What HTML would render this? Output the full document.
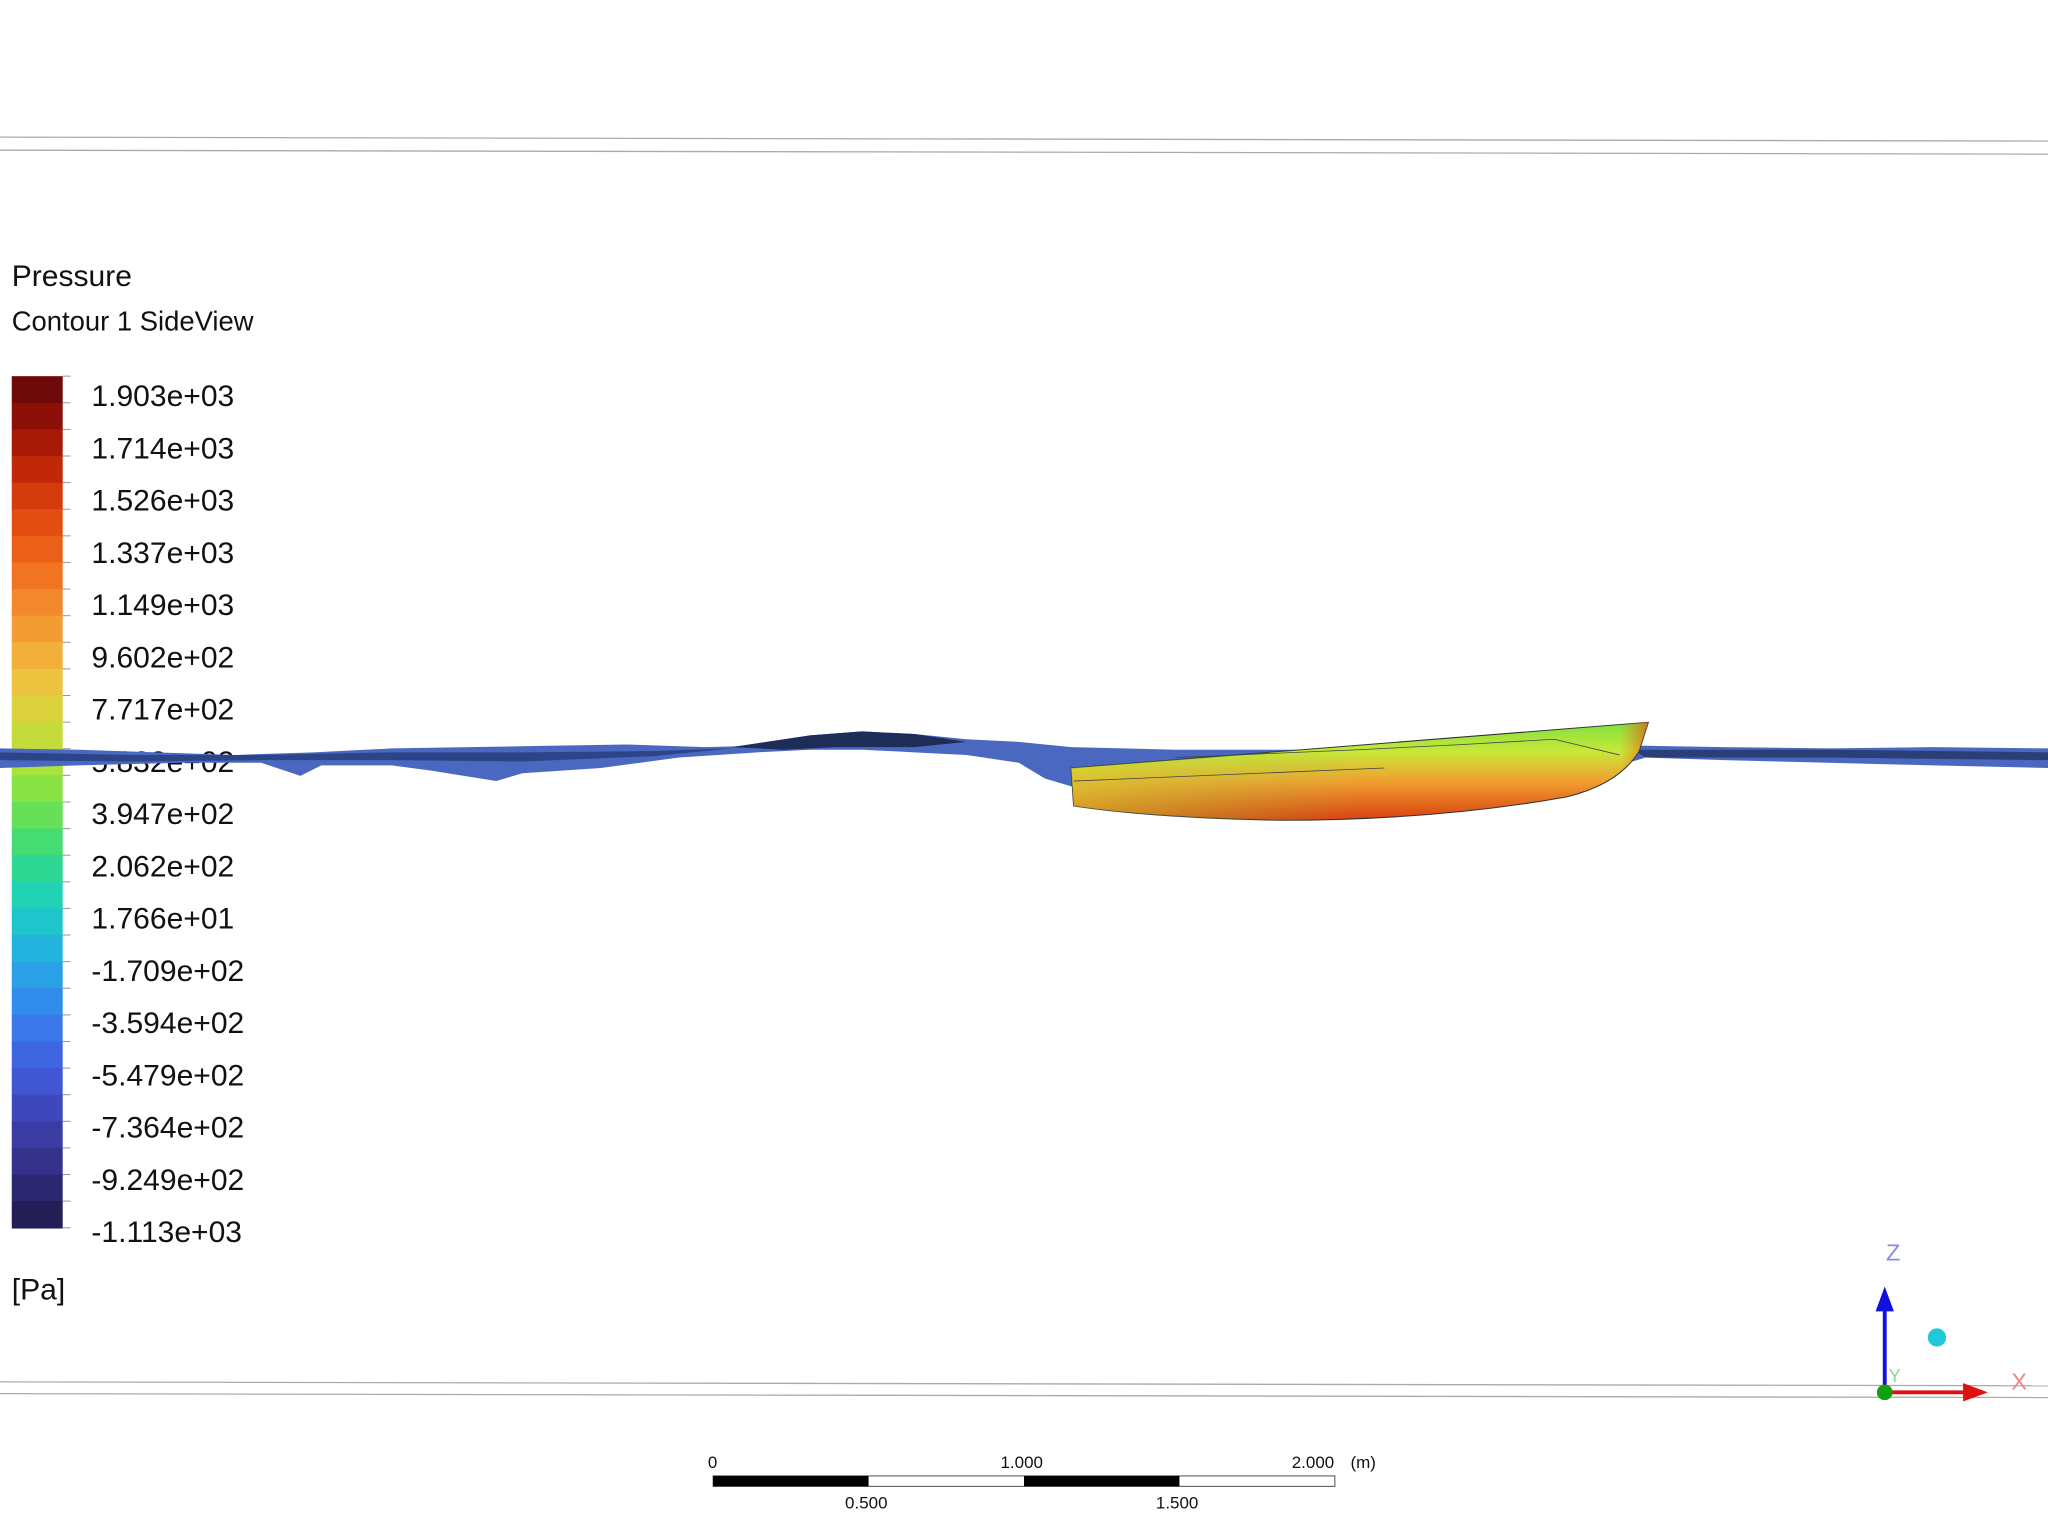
<!DOCTYPE html>
<html><head><meta charset="utf-8"><style>
html,body{margin:0;padding:0;background:#fff;}
svg{display:block;font-family:"Liberation Sans",sans-serif;}
</style></head><body>
<svg id="c" width="2048" height="1536" viewBox="0 0 1568 1176" xmlns="http://www.w3.org/2000/svg">
<defs>
<linearGradient id="hull" x1="0" y1="0" x2="0" y2="1">
<stop offset="0" stop-color="#7fe040"/><stop offset="0.3" stop-color="#c8e838"/><stop offset="0.6" stop-color="#f0a030"/><stop offset="1" stop-color="#d84010"/>
</linearGradient>
<linearGradient id="hullx" x1="0" y1="0" x2="1" y2="0">
<stop offset="0" stop-color="#d0e030" stop-opacity="0.5"/><stop offset="0.5" stop-color="#80e050" stop-opacity="0"/><stop offset="0.95" stop-color="#f07020" stop-opacity="0"/><stop offset="1" stop-color="#e05010" stop-opacity="0.7"/>
</linearGradient>
</defs>
<g stroke="#aaa" stroke-width="1">
<line x1="0" y1="105" x2="1568" y2="108"/><line x1="0" y1="115" x2="1568" y2="118"/>
<line x1="0" y1="1058" x2="1568" y2="1061"/><line x1="0" y1="1067" x2="1568" y2="1070"/>
</g>
<text x="9" y="219" font-size="23" fill="#111">Pressure</text>
<text x="9" y="253" font-size="21" fill="#111">Contour 1 SideView</text>
<g id="bar"></g>
<g id="labels"></g>
<text x="9" y="995" font-size="23" fill="#111">[Pa]</text>
<g>
<path d="M0,573 L60,574 L120,576 L180,578 L240,576 L300,573 L360,572 L420,571 L480,570 L540,572 L580,571 L620,563 L660,560 L700,562 L740,566 L780,568 L820,572 L900,574 L1000,574 L1100,572 L1200,570 L1260,571 L1320,572 L1400,573 L1480,572 L1568,573 L1568,588 L1480,586 L1400,584 L1320,582 L1260,580 L1240,586 L820,602 L800,596 L780,584 L740,578 L700,576 L660,574 L620,574 L580,576 L520,580 L460,588 L400,592 L380,598 L330,590 L300,586 L246,586 L230,594 L200,584 L140,584 L60,586 L0,588 Z" fill="#4a68c0"/>
<path d="M560,572 L620,563 L660,560 L700,562 L740,568 L700,572 L640,572 L600,574 Z" fill="#1e2c58"/>
<path d="M1250,574 L1400,574 L1568,576 L1568,582 L1400,580 L1260,580 Z" fill="#2a3e78"/>
<path d="M0,576 L100,578 L200,578 L300,576 L400,576 L500,575 L560,573 L500,579 L400,583 L300,582 L200,582 L100,583 L0,582 Z" fill="#2c4488"/>
</g>
<g>
<path d="M820,588 L1262,553 L1255,575 Q1240,600 1200,610 Q1100,628 980,628 Q880,626 822,617 Z" fill="url(#hull)" stroke="#333" stroke-width="0.8"/>
<path d="M820,588 L1262,553 L1255,575 Q1240,600 1200,610 Q1100,628 980,628 Q880,626 822,617 Z" fill="url(#hullx)"/>
<path d="M822,598 L1060,588 M900,580 L1040,574 L1120,570 L1190,566 L1240,578" stroke="#444" stroke-width="0.6" fill="none"/>
</g>
<g font-size="13" fill="#111">
<rect x="546" y="1130" width="476" height="8" fill="#fff" stroke="#555" stroke-width="0.8"/>
<rect x="546" y="1130" width="119" height="8" fill="#000"/>
<rect x="784" y="1130" width="119" height="8" fill="#000"/>
<text x="542" y="1124">0</text><text x="766" y="1124">1.000</text><text x="989" y="1124">2.000</text><text x="1034" y="1124">(m)</text>
<text x="647" y="1155">0.500</text><text x="885" y="1155">1.500</text>
</g>
<g>
<line x1="1443" y1="1065" x2="1443" y2="1000" stroke="#1010e0" stroke-width="3"/>
<polygon points="1436,1004 1450,1004 1443,985" fill="#1010e0"/>
<line x1="1443" y1="1066" x2="1505" y2="1066" stroke="#e01010" stroke-width="3"/>
<polygon points="1503,1059 1503,1073 1522,1066" fill="#e01010"/>
<circle cx="1443" cy="1066" r="6" fill="#10a010"/>
<circle cx="1483" cy="1024" r="7" fill="#20c8d8"/>
<text x="1444" y="965" font-size="18" fill="#8a8ae8">Z</text>
<text x="1540" y="1064" font-size="18" fill="#e88a8a">X</text>
<text x="1446" y="1058" font-size="14" fill="#8ad88a">Y</text>
</g>
<script>
const tickLabels=["1.903e+03","1.714e+03","1.526e+03","1.337e+03","1.149e+03","9.602e+02","7.717e+02","5.832e+02","3.947e+02","2.062e+02","1.766e+01","-1.709e+02","-3.594e+02","-5.479e+02","-7.364e+02","-9.249e+02","-1.113e+03"];
const bandColors=["#6e0a0a","#8c1008","#a81a08","#c02808","#d43a0a","#e24e10","#ea6018","#f07422","#f4882c","#f49c34","#f2b03a","#ecc23e","#dcd23e","#c4dc3a","#a8e23a","#88e244","#66e058","#46dc74","#2ed894","#22d2b4","#1ec6cc","#22b4dc","#2aa0e6","#328ceb","#3a78ea","#3e66e2","#4056d2","#3e48bc","#3a3ca4","#34328a","#2c2870","#241e56"];
const NS="http://www.w3.org/2000/svg";
const bar=document.getElementById('bar'),lab=document.getElementById('labels');
const top0=288,bot0=940,x0=9,w=39;
const bh=(bot0-top0)/bandColors.length;
bandColors.forEach((c,i)=>{const r=document.createElementNS(NS,'rect');
r.setAttribute('x',x0);r.setAttribute('y',top0+i*bh);r.setAttribute('width',w);r.setAttribute('height',bh+0.6);r.setAttribute('fill',c);


bar.appendChild(r);});
for(let i=0;i<=bandColors.length;i++){const l=document.createElementNS(NS,'line');const y=top0+i*bh;
l.setAttribute('x1',x0+w);l.setAttribute('x2',x0+w+6);l.setAttribute('y1',y);l.setAttribute('y2',y);l.setAttribute('stroke','#999');l.setAttribute('stroke-width','0.8');bar.appendChild(l);}
const step=40;
tickLabels.forEach((t,i)=>{const e=document.createElementNS(NS,'text');
e.setAttribute('x',70);e.setAttribute('y',303+i*step+8);e.setAttribute('font-size','23');e.setAttribute('fill','#111');e.textContent=t;


lab.appendChild(e);});
</script>
</svg>
</body></html>
